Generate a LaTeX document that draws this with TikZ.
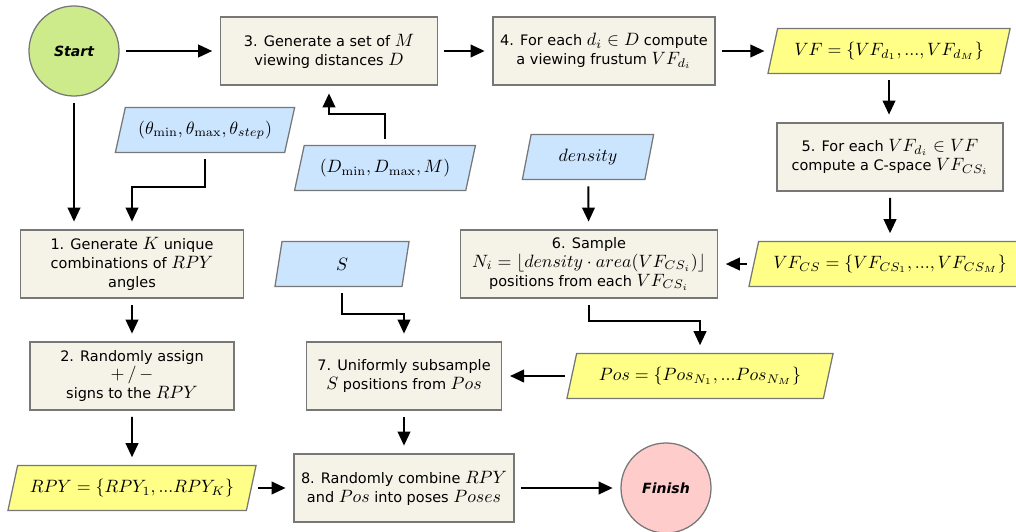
\documentclass[tikz,border=0pt]{standalone}
\usepackage{amsmath,amssymb}
\usepackage{graphicx}
\usepackage[no-math]{fontspec}
\setmainfont{DejaVu Sans}
\usetikzlibrary{arrows.meta,positioning,calc,shapes.geometric}
\usepackage{xcolor}
\definecolor{boxfill}{HTML}{F5F3E7}
\definecolor{boxline}{HTML}{777777}
\definecolor{inblue}{HTML}{CCE5FF}
\definecolor{outyellow}{HTML}{FFFF88}
\definecolor{startgreen}{HTML}{CDEB8B}
\definecolor{finpink}{HTML}{FFCCCC}
% larger math inside the sans text
\newcommand{\mth}[1]{\scalebox{1.27}{$#1$}}

\begin{document}
\begin{tikzpicture}[
    x=0.025cm, y=-0.025cm,
    font=\fontsize{10.3}{13.5}\selectfont,
    box/.style={draw=boxline, fill=boxfill, line width=0.9pt, minimum height=1.7cm, align=center, inner sep=2pt},
    para/.style={trapezium, trapezium left angle=65, trapezium right angle=115, trapezium stretches body,
        draw=boxline, line width=0.9pt, minimum height=1.12cm, inner sep=1pt},
    inp/.style={para, fill=inblue},
    outp/.style={para, fill=outyellow},
    term/.style={circle, draw=boxline, line width=0.9pt, minimum size=2.25cm, font=\fontsize{10}{12}\selectfont\bfseries\itshape},
    arr/.style={-{Triangle[length=10pt,width=9pt]}, line width=1.4pt, shorten <=4.5pt, shorten >=5.5pt}
]
\useasboundingbox (0,0) rectangle (1016,531);

% top row
\node[term, fill=startgreen] (start) at (74,51) {Start};
\node[box, minimum width=5.42cm] (b3) at (329,51) {3. Generate a set of \mth{M}\\viewing distances \mth{D}};
\node[box, minimum width=5.55cm] (b4) at (604,51) {4. For each \mth{d_i\in D} compute\\a viewing frustum \mth{VF_{d_i}}};
\node[outp, minimum width=6.05cm] (vf) at (889,51) {\mth{VF=\{VF_{d_1},...,VF_{d_M}\}}};

% inputs
\node[inp, minimum width=4.48cm] (th) at (205,130) {\mth{(\theta_{\min},\theta_{\max},\theta_{step})}};
\node[inp, minimum width=4.52cm] (dm) at (385,168) {\mth{(D_{\min},D_{\max},M)}};
\node[inp, minimum width=3.28cm] (dens) at (588,157) {\mth{density}};
\node[box, minimum width=5.65cm] (b5) at (890,157) {5. For each \mth{VF_{d_i}\in VF}\\compute a C-space \mth{VF_{CS_i}}};

% middle row
\node[box, minimum width=5.58cm] (b1) at (132,264) {1. Generate \mth{K} unique\\combinations of \mth{RPY}\\angles};
\node[inp, minimum width=3.35cm] (s) at (342,264) {\mth{S}};
\node[box, minimum width=6.42cm] (b6) at (589,264) {6. Sample\\\mth{N_i=\lfloor density\cdot area(VF_{CS_i})\rfloor}\\positions from each \mth{VF_{CS_i}}};
\node[outp, minimum width=7.05cm] (vfcs) at (890,264) {\mth{VF_{CS}=\{VF_{CS_1},...,VF_{CS_M}\}}};

\node[box, minimum width=5.1cm] (b2) at (132,376) {2. Randomly assign\\\mth{+\,/\,-}\\signs to the \mth{RPY}};
\node[box, minimum width=4.88cm] (b7) at (404,376) {7. Uniformly subsample\\\mth{S} positions from \mth{Pos}};
\node[outp, minimum width=6.65cm] (pos) at (700,376) {\mth{Pos=\{Pos_{N_1},...Pos_{N_M}\}}};

% bottom row
\node[outp, minimum width=6.2cm] (rpy) at (132,488) {\mth{RPY=\{RPY_1,...RPY_K\}}};
\node[box, minimum width=5.5cm] (b8) at (404,488) {8. Randomly combine \mth{RPY}\\and \mth{Pos} into poses \mth{Poses}};
\node[term, fill=finpink] (fin) at (666,488) {Finish};

\draw[arr] (start) -- (b3);
\draw[arr] (b3) -- (b4);
\draw[arr] (b4) -- (vf);
\draw[arr] (vf.south) -- (vf.south |- b5.north);
\draw[arr] (b5) -- (vfcs);
\draw[arr] (vfcs) -- (b6);
\draw[arr] (dens) -- (b6);
\draw[arr] (b6.south) -- ++(0,22) -| (pos.north);
\draw[arr] (pos) -- (b7);
\draw[arr] (dm.north) -- ++(0,-31) -| (b3.south);
\draw[arr] (start) -- (start |- b1.north);
\draw[arr] (th.south) -- ++(0,34) -| (b1.north);
\draw[arr] (b1) -- (b2);
\draw[arr] (b2) -- (rpy);
\draw[arr] (s.south) -- ++(0,27) -| (b7.north);
\draw[arr] (b7) -- (b8);
\draw[arr] (rpy) -- (b8);
\draw[arr] (b8) -- (fin);
\end{tikzpicture}
\end{document}
